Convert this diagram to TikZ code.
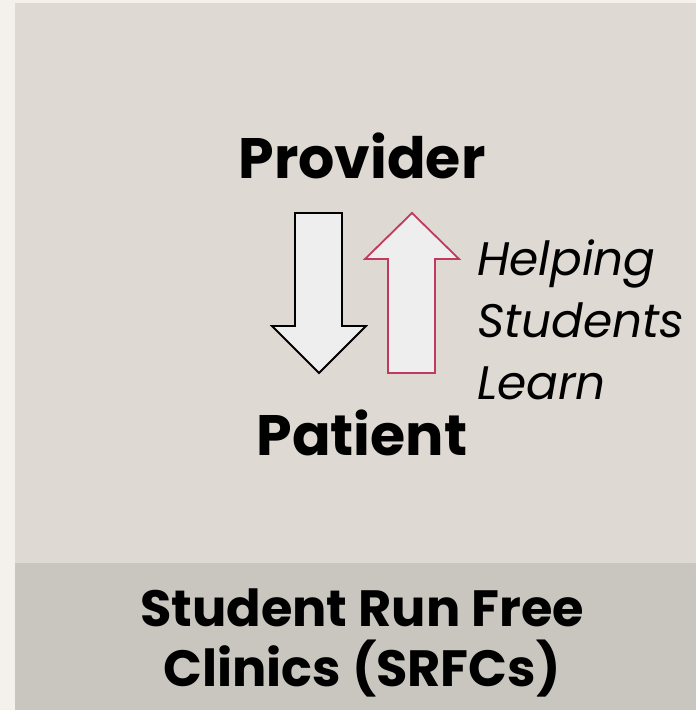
\documentclass[tikz,border=0pt]{standalone}
\usepackage{fontspec}
\setmainfont{Poppins}
\usetikzlibrary{positioning}
\definecolor{outerbg}{HTML}{F4F1EC}
\definecolor{panel}{HTML}{DFD9D3}
\definecolor{band}{HTML}{C9C5BF}
\definecolor{arrowfill}{HTML}{EEEEEE}
\definecolor{rose}{HTML}{C0395F}
\begin{document}
\begin{tikzpicture}[x=1pt,y=-1pt,
 role/.style={font=\fontsize{57}{64}\selectfont\bfseries,inner sep=0pt},
 note/.style={font=\fontsize{47}{62}\selectfont\itshape,align=left,inner sep=0pt},
 title/.style={font=\fontsize{51}{60}\selectfont\bfseries,align=center,inner sep=0pt},
 bigarrow/.style={fill=arrowfill,line width=1.8pt,line join=miter}]
\useasboundingbox (0,0) rectangle (696,710);
\fill[outerbg] (0,0) rectangle (696,710);
\fill[panel] (15,3) rectangle (696,563);
\fill[band] (15,563) rectangle (696,710);
\node[role] (provider) at (362,156) {Provider};
\node[role] (patient) at (362,433) {Patient};
% down arrow: provider to patient
\draw[bigarrow,draw=black] (295,213) -- (342,213) -- (342,326) -- (366,326) -- (319,373)
 -- (272,326) -- (295,326) -- cycle;
% up arrow: patient to provider
\draw[bigarrow,draw=rose] (388,373) -- (435,373) -- (435,259) -- (459,259) -- (412,213)
 -- (365,259) -- (388,259) -- cycle;
\node[note,anchor=west] (help) at (477,320) {Helping\\Students\\Learn};
\node[title] (srfc) at (362,643) {Student Run Free\\Clinics (SRFCs)};
\end{tikzpicture}
\end{document}
